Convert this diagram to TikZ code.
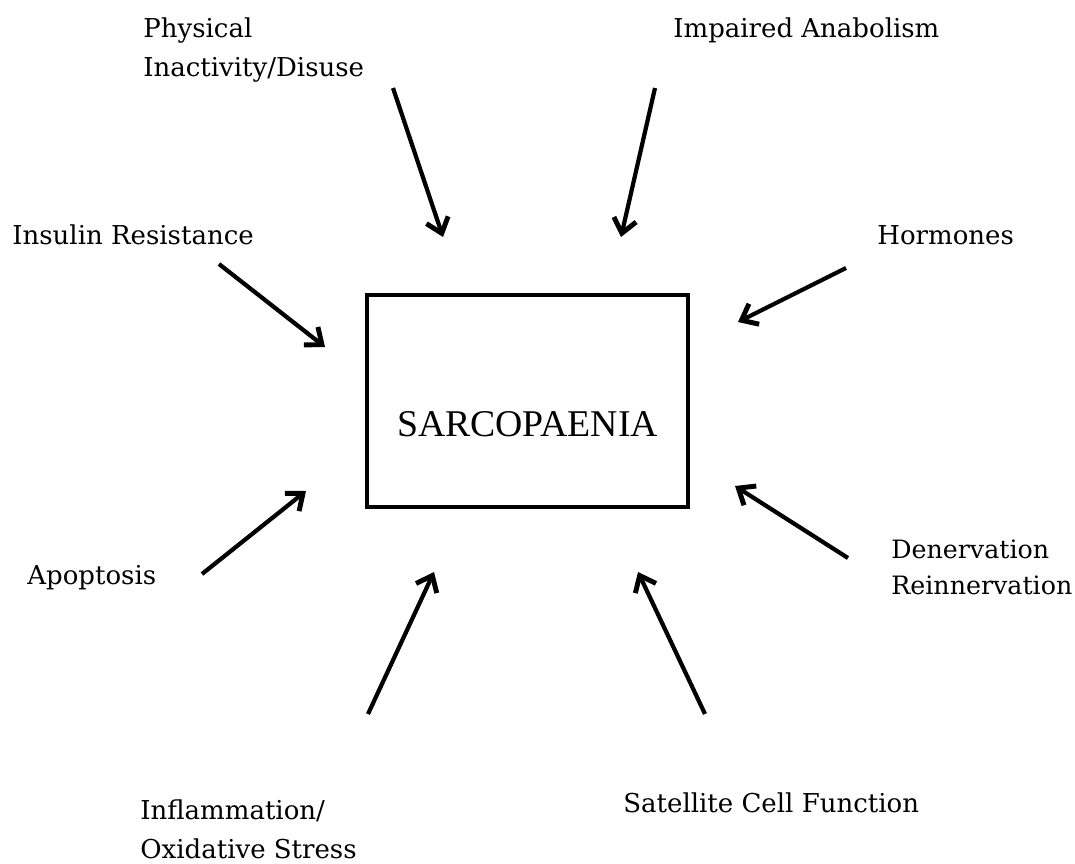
\documentclass[tikz,border=0pt]{standalone}
\usepackage{fontspec}
\setmainfont{DejaVu Serif}
\newfontfamily\boxfont{Liberation Serif}
\usetikzlibrary{arrows.meta}
\begin{document}
\begin{tikzpicture}[x=0.02cm,y=-0.02cm,
  lbl/.style={anchor=base west,inner sep=0pt,align=left,
    font=\fontsize{14.8pt}{22.1pt}\selectfont},
  factor/.style={line width=2.4pt,-{Straight Barb[length=8pt,width=13pt,line width=2.8pt]}},
  mainbox/.style={draw,line width=2.3pt,minimum width=6.42cm,minimum height=4.24cm,
    inner sep=0pt,font=\boxfont\fontsize{21.5pt}{24pt}\selectfont}]
\useasboundingbox[fill=white] (0,0) rectangle (1075,863);
\node[mainbox] (sarc) at (527.5,401) {\raisebox{-0.46cm}[\height][\depth]{SARCOPAENIA}};
\node[lbl] (phys) at (143,76) {Physical\\Inactivity/Disuse};
\node[lbl] (impa) at (673,37) {Impaired Anabolism};
\node[lbl] (insu) at (12,244) {Insulin Resistance};
\node[lbl] (horm) at (877,244) {Hormones};
\node[lbl] (apop) at (27,584) {Apoptosis};
\node[lbl,font=\fontsize{14.4pt}{20.4pt}\selectfont] (dene) at (891,594) {Denervation\\Reinnervation};
\node[lbl] (infl) at (140,858) {Inflammation/\\Oxidative Stress};
\node[lbl] (sate) at (623,812) {Satellite Cell Function};
\coordinate (t1) at (393,88);  \coordinate (h1) at (443,237);
\coordinate (t2) at (655,88);  \coordinate (h2) at (621,237);
\coordinate (t3) at (219,264); \coordinate (h3) at (325,347);
\coordinate (t4) at (846,268); \coordinate (h4) at (738,322);
\coordinate (t5) at (202,574); \coordinate (h5) at (306,491);
\coordinate (t6) at (848,558); \coordinate (h6) at (735,486);
\coordinate (t7) at (368,714); \coordinate (h7) at (434,572);
\coordinate (t8) at (705,714); \coordinate (h8) at (638,572);
\foreach \i in {1,...,8} \draw[factor] (t\i) -- (h\i);
\end{tikzpicture}
\end{document}
